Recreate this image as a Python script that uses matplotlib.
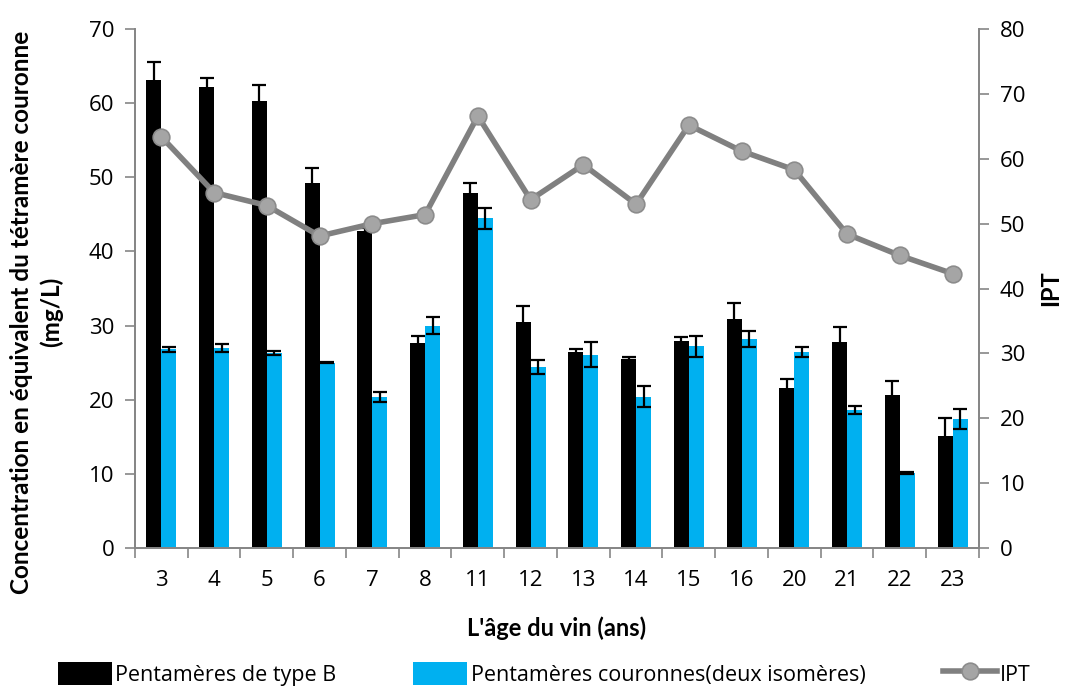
import numpy as np
import matplotlib.pyplot as plt

plt.rcParams['font.family'] = ['Open Sans', 'DejaVu Sans']

ages = ['3', '4', '5', '6', '7', '8', '11', '12', '13', '14', '15', '16', '20', '21', '22', '23']

# pentamères de type B (mg/L) et écarts-types
type_b = [63.2, 62.2, 60.3, 49.2, 42.7, 27.7, 47.9, 30.5, 26.4, 25.5, 27.9, 30.9, 21.6, 27.8, 20.7, 15.1]
type_b_sd = [2.3, 1.2, 2.1, 2.1, 0.5, 0.9, 1.4, 2.2, 0.4, 0.2, 0.5, 2.1, 1.2, 2.0, 1.8, 2.4]

# pentamères couronnes (deux isomères)
couronnes = [26.8, 27.0, 26.3, 25.0, 20.4, 30.0, 44.5, 24.4, 26.1, 20.4, 27.2, 28.2, 26.4, 18.6, 10.1, 17.4]
couronnes_sd = [0.3, 0.5, 0.3, 0.1, 0.7, 1.1, 1.4, 0.9, 1.7, 1.4, 1.4, 1.1, 0.7, 0.5, 0.1, 1.4]

ipt = [63.4, 54.8, 52.8, 48.1, 50.0, 51.4, 66.6, 53.7, 59.1, 53.0, 65.2, 61.2, 58.3, 48.4, 45.1, 42.3]

grey = '#868686'
blue = '#00B0F0'
bold_font = dict(family=['Lato', 'DejaVu Sans'], weight='bold')

fig = plt.figure(figsize=(10.67, 6.9), dpi=100)
ax = fig.add_axes([0.1265, 0.2058, 0.791, 0.752])
ax2 = ax.twinx()

x = np.arange(len(ages))
w = 0.285
err_kw = dict(ecolor='black', elinewidth=1.6, capsize=5, capthick=1.6)
b1 = ax.bar(x - w / 2, type_b, w, yerr=type_b_sd, color='black', error_kw=err_kw,
            label='Pentamères de type B', zorder=2)
b2 = ax.bar(x + w / 2, couronnes, w, yerr=couronnes_sd, color=blue, error_kw=err_kw,
            label='Pentamères couronnes(deux isomères)', zorder=2)

l1, = ax2.plot(x, ipt, color='#808080', lw=4, marker='o', markersize=12,
               markerfacecolor='#A5A5A5', markeredgecolor='#8C8C8C', markeredgewidth=1.2,
               label='IPT')

ax.set_xlim(-0.5, len(ages) - 0.5)
ax.set_ylim(0, 70)
ax.set_yticks(range(0, 71, 10))
ax2.set_ylim(0, 80)
ax2.set_yticks(range(0, 81, 10))

ax.set_xticks(x)
ax.set_xticklabels(ages)
ax.set_xticks(np.arange(-0.5, len(ages), 1), minor=True)
ax.tick_params(axis='x', which='major', length=0, labelsize=16, pad=16)
ax.tick_params(axis='x', which='minor', length=7, color=grey, width=1.2, direction='out')
ax.tick_params(axis='y', labelsize=16, length=7, color=grey, width=1.2, pad=8)
ax2.tick_params(axis='y', labelsize=16, length=7, color=grey, width=1.2, pad=8)

for a in (ax, ax2):
    a.spines['top'].set_visible(False)
    for s in ('left', 'right', 'bottom'):
        a.spines[s].set_color(grey)
        a.spines[s].set_linewidth(1.3)

ax.set_ylabel('Concentration en équivalent du tétramère couronne\n(mg/L)',
              fontsize=17.5, linespacing=1.35, **bold_font)
ax.yaxis.set_label_coords(-0.085, 0.455)
ax.set_xlabel("L'âge du vin (ans)", fontsize=17, labelpad=18, **bold_font)
ax2.set_ylabel('IPT', fontsize=17, labelpad=10, **bold_font)

fig.legend(handles=[b1, b2, l1], loc='lower center', bbox_to_anchor=(0.51, -0.022),
           ncol=3, frameon=False, fontsize=15.5, handlelength=2.5, handleheight=1.3,
           columnspacing=3.6, handletextpad=0.15)

fig.savefig('out.png', dpi=100)
